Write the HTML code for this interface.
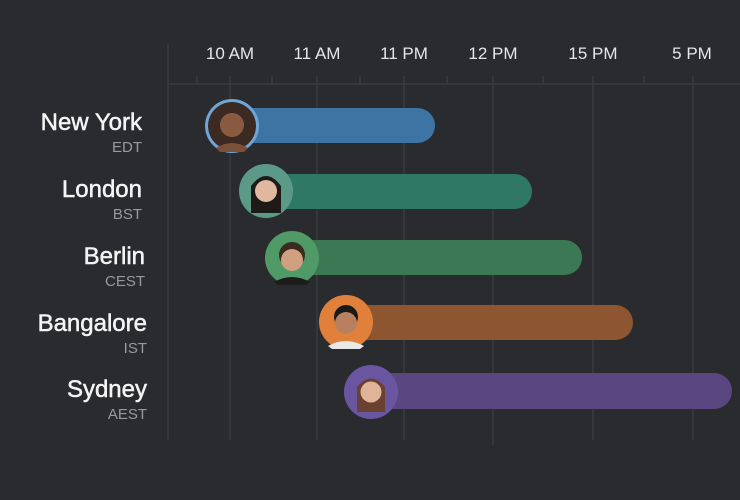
<!DOCTYPE html>
<html><head><meta charset="utf-8"><style>
html,body{margin:0;padding:0;background:#2a2b2e;}
svg{display:block}
</style></head><body>
<svg width="740" height="500" viewBox="0 0 740 500" xmlns="http://www.w3.org/2000/svg" font-family="Liberation Sans, sans-serif">
<rect width="740" height="500" fill="#2a2b2e"/>
<g stroke="#3d3e42" stroke-width="1.3">
<line x1="168" y1="44" x2="168" y2="440"/>
<line x1="230" y1="76" x2="230" y2="440"/>
<line x1="317" y1="76" x2="317" y2="440"/>
<line x1="404" y1="76" x2="404" y2="440"/>
<line x1="493" y1="76" x2="493" y2="445"/>
<line x1="593" y1="76" x2="593" y2="440"/>
<line x1="693" y1="76" x2="693" y2="440"/>
<line x1="168" y1="84" x2="740" y2="84"/>
<line x1="197" y1="76" x2="197" y2="84"/><line x1="272" y1="76" x2="272" y2="84"/>
<line x1="360" y1="76" x2="360" y2="84"/><line x1="447" y1="76" x2="447" y2="84"/>
<line x1="543" y1="76" x2="543" y2="84"/><line x1="644" y1="76" x2="644" y2="84"/>
</g>
<g fill="#e6e6e8" font-size="17" text-anchor="middle">
<text x="230" y="59">10 AM</text><text x="317" y="59">11 AM</text><text x="404" y="59">11 PM</text>
<text x="493" y="59">12 PM</text><text x="593" y="59">15 PM</text><text x="692" y="59">5 PM</text>
</g>
<g text-anchor="end">
<g fill="#f4f4f4" stroke="#f4f4f4" stroke-width="0.5" font-size="24">
<text x="142" y="130">New York</text>
<text x="142" y="197">London</text>
<text x="145" y="264">Berlin</text>
<text x="147" y="331">Bangalore</text>
<text x="147" y="397">Sydney</text>
</g>
<g fill="#9a9a9e" font-size="15">
<text x="142" y="152">EDT</text><text x="142" y="219">BST</text><text x="145" y="286">CEST</text>
<text x="147" y="353">IST</text><text x="147" y="419">AEST</text>
</g>
</g>
<rect x="232" y="108" width="203" height="35" rx="17.5" fill="#3d74a3"/>
<rect x="266" y="174" width="266" height="35" rx="17.5" fill="#2f7863"/>
<rect x="292" y="240" width="290" height="35" rx="17.5" fill="#3c7853"/>
<rect x="346" y="305" width="287" height="35" rx="17.5" fill="#8d5630"/>
<rect x="371" y="373" width="361" height="36" rx="18" fill="#5a4680"/>
<g transform="translate(232,126)"><circle r="27" fill="#6fa6d6"/><circle r="24" fill="#3a2a22"/><circle cy="-1" r="12" fill="#8a5a40"/><path d="M-16 22 Q0 12 16 22 L12 26 L-12 26Z" fill="#7a5038"/></g>
<g transform="translate(266,191)"><circle r="27" fill="#5c9a88"/><path d="M-15 22 L-15 -5 Q0 -25 15 -5 L15 22Z" fill="#1e1a18"/><circle cy="0" r="11" fill="#e0b8a0"/></g>
<g transform="translate(292,258)"><circle r="27" fill="#4f9a66"/><circle cy="-3" r="13" fill="#3a2a20"/><circle cy="2" r="11" fill="#d0a080"/><path d="M-18 24 Q0 14 18 24 L14 27 L-14 27Z" fill="#1c1c1c"/></g>
<g transform="translate(346,322)"><circle r="27" fill="#e0803a"/><circle cy="-5" r="12" fill="#1a1a1a"/><circle cy="1" r="11" fill="#b8805e"/><path d="M-18 24 Q0 14 18 24 L14 27 L-14 27Z" fill="#e8e8e8"/></g>
<g transform="translate(371,392)"><circle r="27" fill="#6a55a0"/><path d="M-14 20 L-14 -5 Q0 -22 14 -5 L14 20Z" fill="#6a4030"/><circle cy="0" r="10.5" fill="#e0b498"/></g>
</svg>
</body></html>
